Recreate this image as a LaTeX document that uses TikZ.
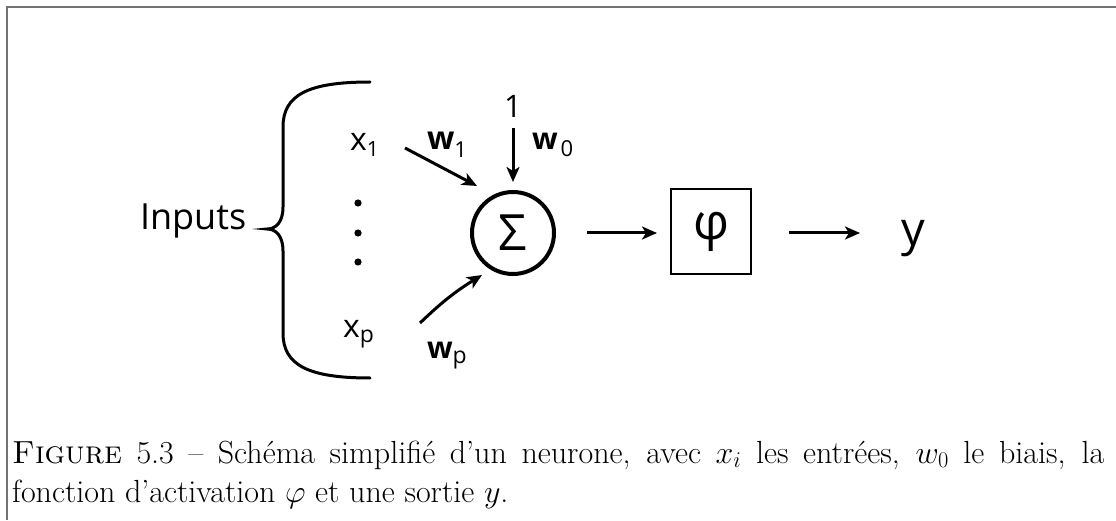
\RequirePackage{fix-cm}
\documentclass[tikz,border=0pt]{standalone}
\usepackage{fontspec}
\newfontfamily\osans{Open Sans}
\usetikzlibrary{arrows.meta}
\newcommand{\osz}[1]{\osans\fontsize{#1}{#1}\selectfont}
\newcommand{\lowsub}[3]{\raisebox{-#2pt}{\fontsize{#1}{#1}\selectfont #3}}
\tikzset{
  lbl/.style={inner sep=0pt, outer sep=0pt},
  arr/.style={line width=3pt, -{Stealth[length=15pt,width=13pt,inset=4pt]}},
  frameline/.style={line width=1.6pt, draw=black!55},
  bracestroke/.style={line width=3pt, line cap=round},
  dotmark/.style={fill=black},
  capline/.style={anchor=base west, inner sep=0pt, font=\fontsize{32}{39}\selectfont},
}
\begin{document}
\begin{tikzpicture}[x=1pt,y=1pt]
\useasboundingbox (0,0) rectangle (1116,520);
% frame
\draw[frameline] (7,0) -- (7,513) -- (1116,513);
% inputs label
\node[lbl, anchor=base west, font=\osz{36}] (inputs) at (140,290) {Inputs};
% brace
\draw[bracestroke] (370,438) .. controls (308,438) and (283,425) .. (283,393)
  -- (283,313) .. controls (283,298) and (276,291) .. (267,291)
  .. controls (276,291) and (283,284) .. (283,269)
  -- (283,187) .. controls (283,155) and (308,142) .. (370,142);
% inputs
\node[lbl, anchor=base west, font=\osz{32}] (x1) at (350,369) {x\lowsub{21}{6}{1}};
\fill[dotmark] (358,317) circle (3.6) (358,287) circle (3.6) (358,258) circle (3.6);
\node[lbl, anchor=base west, font=\osz{32}] (xp) at (343,183) {x\lowsub{23}{5}{p}};
% summation
\node[circle, draw, line width=4pt, minimum size=82pt, inner sep=0pt, font=\osz{50}] (sum) at (513,287) {Σ};
% bias
\node[lbl, font=\osz{31}] (one) at (513,414) {1};
\coordinate (b0s) at (513,392);
\coordinate (b0e) at (513,338);
\draw[arr] (b0s) -- (b0e);
\node[lbl, anchor=base west, font=\osz{30}\bfseries] (w0) at (532,370) {w\hspace{3pt}\lowsub{22}{7}{\mdseries 0}};
% weight 1
\coordinate (w1s) at (405,372);
\coordinate (w1e) at (477,334);
\draw[arr] (w1s) -- (w1e);
\node[lbl, anchor=base west, font=\osz{32}\bfseries] (w1) at (427,370) {w\lowsub{22}{8}{\mdseries 1}};
% weight p
\coordinate (wps) at (420,197);
\coordinate (wpe) at (482,245);
\draw[arr] (wps) to[bend left=6] (wpe);
\node[lbl, anchor=base west, font=\osz{30}\bfseries] (wp) at (427,162) {w\lowsub{23}{5}{\mdseries p}};
% activation
\node[draw, line width=2pt, minimum width=80pt, minimum height=85pt, inner sep=0pt, font=\osz{50}] (phi) at (711,288) {φ};
\draw[arr, shorten <=31pt, shorten >=13pt] (sum) -- (sum -| phi.west);
% output
\node[lbl, anchor=base west, font=\osz{47}] (y) at (901,274) {y};
\draw[arr, shorten <=37pt, shorten >=41pt] (phi.east |- sum) -- (sum -| y.west);
% caption
\node[capline] (cap1) at (12,57) {\makebox[1092pt][s]{\textsc{Figure} 5.3 – Schéma simplifié d’un neurone, avec $x_i$ les entrées, $w_0$ le biais, la}};
\node[capline] (cap2) at (12,18) {fonction d’activation $\varphi$ et une sortie $y$.};
\end{tikzpicture}
\end{document}
